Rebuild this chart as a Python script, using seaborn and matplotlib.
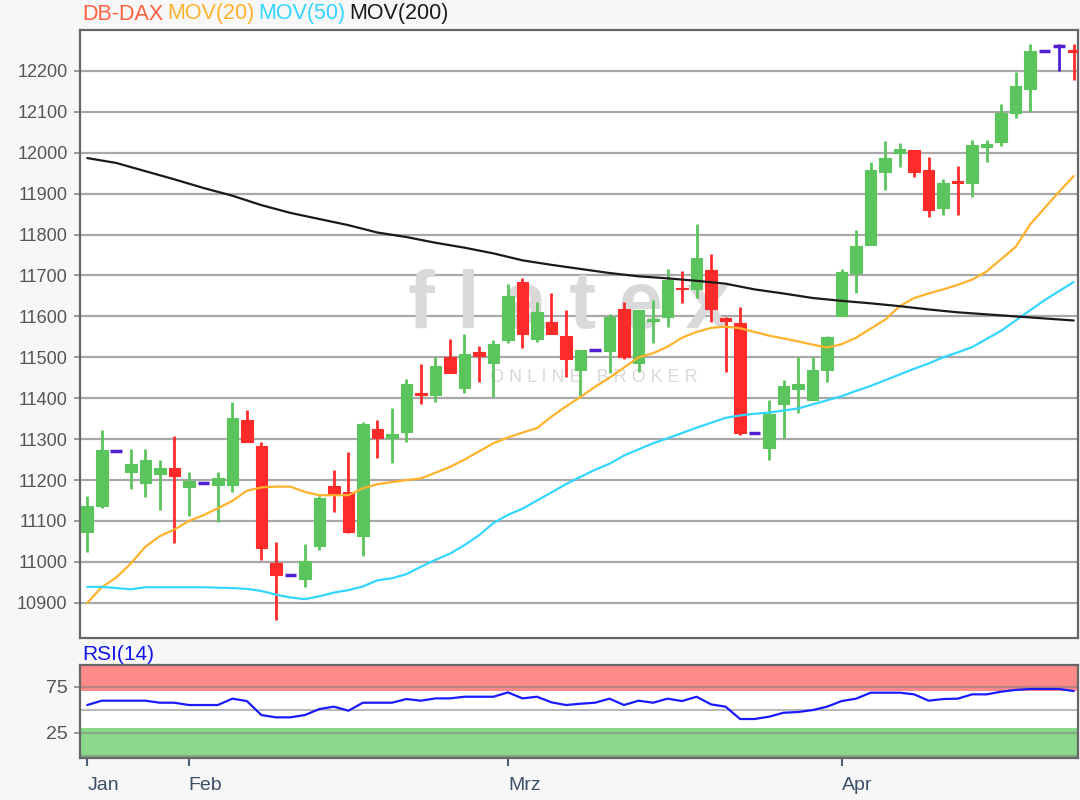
import matplotlib
matplotlib.use("Agg")
import matplotlib.pyplot as plt
import seaborn as sns
import pandas as pd

opens = [11074, 11136, 11272, 11220, 11192, 11216, 11229, 11182, 11193, 11187,
         11187, 11346, 11283, 10998, 10969, 10957, 11039, 11185, 11171, 11064,
         11326, 11304, 11318, 11414, 11408, 11501, 11425, 11513, 11485, 11542,
         11684, 11544, 11587, 11552, 11470, 11518, 11516, 11619, 11485, 11588,
         11599, 11670, 11666, 11713, 11595, 11584, 11316, 11279, 11387, 11422,
         11395, 11470, 11601, 11705, 11774, 11953, 12000, 12006, 11957, 11866,
         11931, 11925, 12013, 12027, 12096, 12155, 12249, 12260, 12252]
highs = [11161, 11322, 11272, 11277, 11277, 11249, 11307, 11219, 11193, 11219,
         11390, 11371, 11293, 11048, 10969, 11043, 11161, 11224, 11268, 11341,
         11346, 11375, 11448, 11483, 11501, 11546, 11557, 11527, 11542, 11679,
         11695, 11634, 11656, 11615, 11518, 11518, 11607, 11636, 11615, 11640,
         11717, 11711, 11825, 11752, 11599, 11623, 11316, 11395, 11444, 11501,
         11500, 11552, 11717, 11811, 11978, 12029, 12024, 12006, 11990, 11937,
         11967, 12031, 12031, 12119, 12198, 12265, 12249, 12265, 12265]
lows = [11025, 11132, 11272, 11177, 11158, 11128, 11045, 11112, 11193, 11098,
        11171, 11293, 11004, 10859, 10969, 10938, 11030, 11122, 11070, 11015,
        11255, 11241, 11293, 11387, 11391, 11461, 11412, 11440, 11402, 11535,
        11524, 11538, 11558, 11451, 11402, 11518, 11461, 11495, 11465, 11534,
        11573, 11632, 11646, 11587, 11465, 11310, 11316, 11250, 11302, 11363,
        11395, 11440, 11601, 11656, 11774, 11910, 11966, 11940, 11842, 11847,
        11847, 11892, 11978, 12016, 12086, 12100, 12249, 12200, 12179]
closes = [11136, 11273, 11272, 11239, 11249, 11229, 11210, 11198, 11193, 11204,
          11351, 11293, 11035, 10968, 10969, 11003, 11155, 11166, 11074, 11337,
          11304, 11312, 11434, 11408, 11478, 11461, 11507, 11504, 11532, 11650,
          11558, 11610, 11558, 11495, 11518, 11518, 11599, 11501, 11615, 11593,
          11689, 11666, 11742, 11617, 11589, 11314, 11316, 11361, 11430, 11434,
          11469, 11549, 11709, 11772, 11957, 11986, 12010, 11953, 11861, 11927,
          11925, 12020, 12021, 12097, 12163, 12249, 12249, 12260, 12247]

mov20 = [10900, 10938, 10962, 10996, 11037, 11063, 11079, 11100, 11114, 11131,
         11149, 11174, 11182, 11184, 11184, 11171, 11163, 11163, 11163, 11180,
         11190, 11195, 11200, 11204, 11218, 11232, 11250, 11270, 11290, 11304,
         11316, 11327, 11355, 11380, 11403, 11428, 11450, 11475, 11500, 11510,
         11526, 11548, 11562, 11572, 11575, 11571, 11562, 11553, 11546, 11539,
         11531, 11524, 11532, 11548, 11570, 11592, 11625, 11645, 11656, 11666,
         11677, 11690, 11710, 11740, 11770, 11825, 11865, 11905, 11943]
mov50 = [10939, 10939, 10936, 10933, 10938, 10938, 10938, 10938, 10938, 10937,
         10936, 10934, 10929, 10920, 10913, 10909, 10916, 10925, 10931, 10940,
         10955, 10960, 10970, 10988, 11005, 11020, 11041, 11065, 11095, 11115,
         11130, 11150, 11170, 11190, 11208, 11225, 11240, 11260, 11275, 11290,
         11302, 11315, 11328, 11340, 11352, 11358, 11362, 11365, 11370, 11375,
         11385, 11395, 11405, 11418, 11430, 11444, 11458, 11472, 11485, 11500,
         11512, 11525, 11545, 11565, 11590, 11615, 11640, 11662, 11684]
mov200_idx = list(range(0, 69, 2))
mov200 = [11987, 11975, 11955, 11935, 11914, 11895, 11872, 11853, 11838, 11823,
          11805, 11794, 11780, 11768, 11754, 11737, 11726, 11716, 11706, 11698,
          11693, 11687, 11680, 11666, 11656, 11645, 11638, 11632, 11625, 11617,
          11610, 11605, 11600, 11595, 11590]

rsi = [55.1, 59.8, 59.8, 59.8, 59.8, 57.6, 57.6, 55.1, 55.1, 55.1,
       62.0, 59.4, 44.2, 41.7, 41.7, 44.2, 50.7, 53.3, 48.9, 57.6,
       57.6, 57.6, 61.6, 59.8, 62.3, 62.3, 64.1, 64.1, 64.1, 68.8,
       62.3, 64.1, 58.0, 55.1, 56.5, 57.6, 62.0, 55.1, 59.8, 57.6,
       62.0, 59.4, 64.1, 55.8, 53.3, 39.9, 39.9, 42.4, 46.7, 47.5,
       49.6, 53.3, 59.4, 62.0, 68.5, 68.5, 68.5, 66.7, 59.8, 61.6,
       62.0, 66.7, 66.7, 69.6, 71.5, 72.5, 72.5, 72.5, 70.3]

month_labels = ['Jan', 'Feb', 'Mrz', 'Apr']
month_pos = [0, 7, 29, 52]
price_ticks = list(range(10900, 12201, 100))
rsi_ticks = [25, 75]

# Farben
GREEN = '#5CC45C'
RED = '#FF2B2B'
PURPLE = '#5020D0'
ORANGE = '#FFB22C'
CYAN = '#33D6FF'
BLACK = '#1A1A1A'

sns.set_theme(style="white")
plt.rcParams['font.family'] = ['Liberation Sans', 'DejaVu Sans']

df = pd.DataFrame({'o': opens, 'h': highs, 'l': lows, 'c': closes})
df['idx'] = range(len(df))
df['farbe'] = [GREEN if c > o else (RED if c < o else PURPLE) for o, c in zip(df.o, df.c)]

fig = plt.figure(figsize=(10.8, 8), dpi=100, facecolor='#F7F7F7')
ax = fig.add_axes([0.0741, 0.2025, 0.9241, 0.76])
rx = fig.add_axes([0.0741, 0.0525, 0.9241, 0.11625], sharex=ax)

# --- Hauptchart ---
ax.set_facecolor('white')
# Wasserzeichen
ax.text(0.49, 0.545, 'f l a t e x', transform=ax.transAxes, ha='center', va='center',
        fontsize=58, fontweight='bold', color='#D9D9D9', zorder=1)
ax.text(0.515, 0.428, 'O N L I N E   B R O K E R', transform=ax.transAxes, ha='center',
        va='center', fontsize=13, color='#D9D9D9', zorder=1)

voll = df[df.o != df.c]
flach = df[df.o == df.c]
ax.vlines(df.idx, df.l, df.h, colors=df.farbe, lw=2, zorder=3)
ax.bar(voll.idx, (voll.c - voll.o).abs(), bottom=voll[['o', 'c']].min(axis=1),
       width=0.8, color=voll.farbe, edgecolor=voll.farbe, lw=0.8, zorder=4)
ax.hlines(flach.c, flach.idx - 0.4, flach.idx + 0.4, colors=PURPLE, lw=2.5, zorder=4)

sns.lineplot(x=df.idx, y=mov20, ax=ax, color=ORANGE, lw=1.6, zorder=5)
sns.lineplot(x=df.idx, y=mov50, ax=ax, color=CYAN, lw=1.6, zorder=5)
sns.lineplot(x=mov200_idx, y=mov200, ax=ax, color=BLACK, lw=1.6, zorder=5)

ax.set_xlim(-0.5, 68.3)
ax.set_ylim(10814, 12300)
ax.set_yticks(price_ticks)
ax.grid(axis='y', color='#A8A8A8', lw=1.6)
ax.grid(axis='x', visible=False)
ax.set_axisbelow(True)
ax.tick_params(axis='y', left=True, length=4, width=1.2, color='#888888',
               labelsize=13, labelcolor='#555555', pad=5)
ax.tick_params(axis='x', bottom=False, labelbottom=False)
ax.set_xlabel('')
ax.set_ylabel('')
for s in ax.spines.values():
    s.set_color('#666666')
    s.set_linewidth(1.6)

# Titelzeile, Texte aneinandergereiht
prev = fig.text(82 / 1080, 1 - 14 / 800, 'DB-DAX', color='#FF6040', fontsize=15.5, va='center')
for txt, col in [('MOV(20)', ORANGE), ('MOV(50)', CYAN), ('MOV(200)', BLACK)]:
    prev = ax.annotate(txt, xy=(1, 0.5), xycoords=prev, xytext=(4, 0),
                       textcoords='offset pixels', ha='left', va='center',
                       color=col, fontsize=15.5, annotation_clip=False)

# --- RSI ---
rx.set_facecolor('white')
rx.axhspan(70, 100, color='#FF8A8A', lw=0, zorder=0)
rx.axhspan(-5, 30, color='#8AD88A', lw=0, zorder=0)
for lvl in [0, 25, 50, 75]:
    rx.axhline(lvl, color='#808080', lw=1.5, alpha=0.55, zorder=1)
sns.lineplot(x=df.idx, y=rsi, ax=rx, color='#1A1AFF', lw=1.6, zorder=3)
rx.set_ylim(-2.5, 98.6)
rx.set_yticks(rsi_ticks)
rx.set_xticks(month_pos)
rx.set_xticklabels(month_labels)
for lab in rx.get_xticklabels():
    lab.set_horizontalalignment('left')
rx.tick_params(axis='y', left=True, length=4, width=1.2, color='#888888',
               labelsize=14, labelcolor='#555555', pad=5)
rx.tick_params(axis='x', bottom=True, length=6, width=1.5, color='#4A6078',
               labelsize=14, labelcolor='#3B5068', pad=8)
rx.set_xlabel('')
rx.set_ylabel('')
rx.grid(False)
for s in rx.spines.values():
    s.set_color('#666666')
    s.set_linewidth(1.6)
fig.text(82 / 1080, 1 - 654 / 800, 'RSI(14)', color='#1515EE', fontsize=15, va='center')

fig.savefig('out.png', dpi=100, facecolor=fig.get_facecolor())
